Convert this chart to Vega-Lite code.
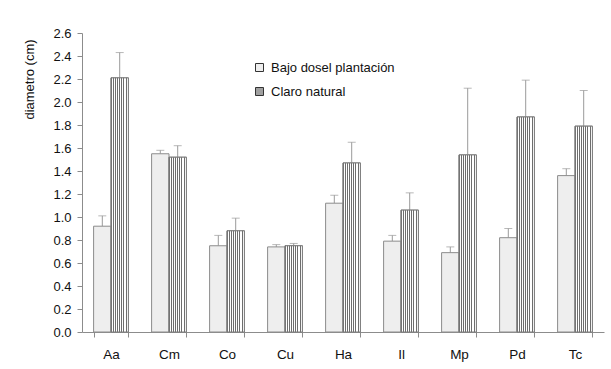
{
  "$schema": "https://vega.github.io/schema/vega-lite/v6.json",
  "autosize": {"type": "none"},
  "width": 522,
  "height": 299,
  "padding": {"left": 82, "top": 33, "right": 7, "bottom": 37},
  "background": "white",
  "config": {
    "font": "Liberation Sans",
    "view": {"stroke": null},
    "axis": {"domainColor": "#8c8c8c", "tickColor": "#8c8c8c", "labelColor": "#111", "titleColor": "#111", "grid": false, "labelFontWeight": "normal", "titleFontWeight": "normal", "labelFontSize": 13, "titleFontSize": 13},
    "axisY": {"labelFontSize": 13, "titleFontSize": 13, "labelOverlap": false, "labelPadding": 6, "tickSize": 5},
    "axisLeft": {"labelFontSize": 13, "titleFontSize": 13},
    "axisQuantitative": {"labelFontSize": 13, "titleFontSize": 13}
  },
  "data": {
    "values": [
      {"cat": "Aa", "serie": "Bajo dosel plantación", "value": 0.92, "err": 1.01},
      {"cat": "Aa", "serie": "Claro natural", "value": 2.21, "err": 2.43},
      {"cat": "Cm", "serie": "Bajo dosel plantación", "value": 1.55, "err": 1.58},
      {"cat": "Cm", "serie": "Claro natural", "value": 1.52, "err": 1.62},
      {"cat": "Co", "serie": "Bajo dosel plantación", "value": 0.75, "err": 0.84},
      {"cat": "Co", "serie": "Claro natural", "value": 0.88, "err": 0.99},
      {"cat": "Cu", "serie": "Bajo dosel plantación", "value": 0.74, "err": 0.76},
      {"cat": "Cu", "serie": "Claro natural", "value": 0.75, "err": 0.77},
      {"cat": "Ha", "serie": "Bajo dosel plantación", "value": 1.12, "err": 1.19},
      {"cat": "Ha", "serie": "Claro natural", "value": 1.47, "err": 1.65},
      {"cat": "Il", "serie": "Bajo dosel plantación", "value": 0.79, "err": 0.84},
      {"cat": "Il", "serie": "Claro natural", "value": 1.06, "err": 1.21},
      {"cat": "Mp", "serie": "Bajo dosel plantación", "value": 0.69, "err": 0.74},
      {"cat": "Mp", "serie": "Claro natural", "value": 1.54, "err": 2.12},
      {"cat": "Pd", "serie": "Bajo dosel plantación", "value": 0.82, "err": 0.90},
      {"cat": "Pd", "serie": "Claro natural", "value": 1.87, "err": 2.19},
      {"cat": "Tc", "serie": "Bajo dosel plantación", "value": 1.36, "err": 1.42},
      {"cat": "Tc", "serie": "Claro natural", "value": 1.79, "err": 2.10}
    ]
  },
  "encoding": {
    "x": {
      "field": "cat", "type": "nominal", "sort": null,
      "scale": {"paddingInner": 0.4, "paddingOuter": 0.2},
      "axis": {"title": null, "labelAngle": 0, "tickBand": "extent", "tickSize": 5, "labelPadding": 10, "labelFontSize": 13.5, "labelBaseline": "top"}
    },
    "xOffset": {"field": "serie", "type": "nominal", "sort": ["Bajo dosel plantación", "Claro natural"], "scale": {"paddingInner": 0, "paddingOuter": 0}},
    "y": {
      "field": "value", "type": "quantitative",
      "scale": {"domain": [0, 2.6], "nice": false},
      "axis": {"title": "diametro (cm)", "values": [0, 0.2, 0.4, 0.6, 0.8, 1.0, 1.2, 1.4, 1.6, 1.8, 2.0, 2.2, 2.4, 2.6], "format": ".1f", "labelOverlap": false, "tickSize": 5, "labelPadding": 6, "labelFontSize": 13, "titleFontSize": 13, "titleX": -53, "titleY": 46, "titleAngle": 270, "titleAlign": "center", "titleBaseline": "middle"}
    }
  },
  "layer": [
    {
      "mark": {"type": "rule", "color": "#9a9a9a", "strokeWidth": 1},
      "encoding": {
        "y2": {"field": "err"}
      }
    },
    {
      "mark": {"type": "tick", "color": "#9a9a9a", "thickness": 1, "size": 8, "orient": "horizontal"},
      "encoding": {
        "y": {"field": "err", "type": "quantitative"}
      }
    },
    {
      "mark": {"type": "bar", "stroke": "#8c8c8c", "strokeWidth": 1, "opacity": 1},
      "encoding": {
        "fill": {
          "field": "serie", "type": "nominal",
          "scale": {"domain": ["Bajo dosel plantación", "Claro natural"], "range": ["#eeeeee", "#a0a0a0"]},
          "legend": {
            "title": null, "orient": "none", "legendX": 171, "legendY": 28, "padding": 0,
            "symbolType": "square", "symbolSize": 64, "symbolStrokeColor": "#333", "symbolStrokeWidth": 1,
            "labelFontSize": 13, "labelOffset": 5, "rowPadding": 10, "labelColor": "#111"
          }
        }
      }
    },
    {
      "transform": [{"filter": "datum.serie === 'Claro natural'"}],
      "mark": {
        "type": "bar", "stroke": "#7a7a7a", "strokeWidth": 1, "opacity": 1,
        "fill": {"gradient": "linear", "x1": 0, "y1": 0, "x2": 1, "y2": 0, "stops": [
          {"offset": 0, "color": "#6e6e6e"}, {"offset": 0.0556, "color": "#6e6e6e"}, {"offset": 0.0556, "color": "#ffffff"}, {"offset": 0.1111, "color": "#ffffff"},
          {"offset": 0.1111, "color": "#6e6e6e"}, {"offset": 0.1667, "color": "#6e6e6e"}, {"offset": 0.1667, "color": "#ffffff"}, {"offset": 0.2222, "color": "#ffffff"},
          {"offset": 0.2222, "color": "#6e6e6e"}, {"offset": 0.2778, "color": "#6e6e6e"}, {"offset": 0.2778, "color": "#ffffff"}, {"offset": 0.3333, "color": "#ffffff"},
          {"offset": 0.3333, "color": "#6e6e6e"}, {"offset": 0.3889, "color": "#6e6e6e"}, {"offset": 0.3889, "color": "#ffffff"}, {"offset": 0.4444, "color": "#ffffff"},
          {"offset": 0.4444, "color": "#6e6e6e"}, {"offset": 0.5, "color": "#6e6e6e"}, {"offset": 0.5, "color": "#ffffff"}, {"offset": 0.5556, "color": "#ffffff"},
          {"offset": 0.5556, "color": "#6e6e6e"}, {"offset": 0.6111, "color": "#6e6e6e"}, {"offset": 0.6111, "color": "#ffffff"}, {"offset": 0.6667, "color": "#ffffff"},
          {"offset": 0.6667, "color": "#6e6e6e"}, {"offset": 0.7222, "color": "#6e6e6e"}, {"offset": 0.7222, "color": "#ffffff"}, {"offset": 0.7778, "color": "#ffffff"},
          {"offset": 0.7778, "color": "#6e6e6e"}, {"offset": 0.8333, "color": "#6e6e6e"}, {"offset": 0.8333, "color": "#ffffff"}, {"offset": 0.8889, "color": "#ffffff"},
          {"offset": 0.8889, "color": "#6e6e6e"}, {"offset": 0.9444, "color": "#6e6e6e"}, {"offset": 0.9444, "color": "#ffffff"}, {"offset": 1, "color": "#ffffff"}
        ]}
      }
    }
  ]
}
